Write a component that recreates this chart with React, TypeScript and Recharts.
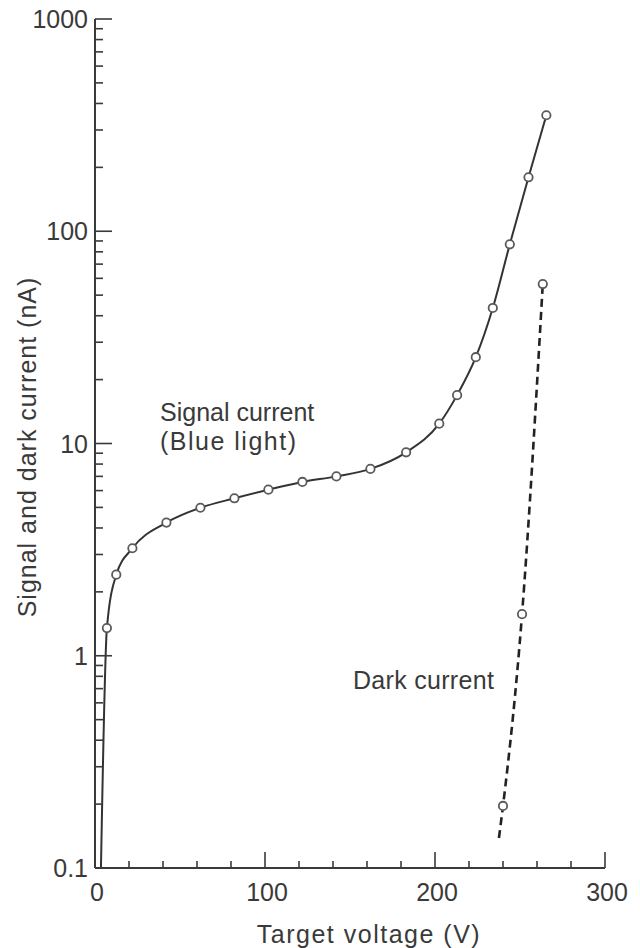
import React from 'react';
import { LineChart, Line, XAxis, YAxis } from 'recharts';

// Signal current (blue light) — target voltage (V) vs current (nA)
const signalVoltage = [3.5, 7, 12.5, 22, 42, 62, 82, 102, 122, 142, 162, 183, 202.5, 213, 224, 234, 244, 255, 265.5];
const signalCurrent = [0.1, 1.35, 2.41, 3.21, 4.24, 4.98, 5.52, 6.06, 6.59, 7.0, 7.59, 9.09, 12.4, 16.9, 25.5, 43.5, 86.8, 179.6, 352];
const signalMarker = [false, true, true, true, true, true, true, true, true, true, true, true, true, true, true, true, true, true, true];

// Dark current
const darkVoltage = [237.6, 240, 251.2, 263.4];
const darkCurrent = [0.1385, 0.196, 1.57, 56.4];
const darkMarker = [false, true, true, true];

// Axes
const xTicks = [0, 20, 40, 60, 80, 100, 120, 140, 160, 180, 200, 220, 240, 260, 280, 300];
const xMajorTicks = [0, 100, 200, 300];
const xTickLabels = ['0', '100', '200', '300'];
const yDecades = [0.1, 1, 10, 100];
const yMultipliers = [1, 2, 3, 4, 5, 6, 7, 8, 9];
const yMajorTicks = [0.1, 1, 10, 100, 1000];
const yTickLabels = ['0.1', '1', '10', '100', '1000'];

const yTicks: number[] = [];
yDecades.forEach((d) => yMultipliers.forEach((m) => yTicks.push(d * m)));
yTicks.push(1000);

const signalData = signalVoltage.map((v, i) => ({ v, i: signalCurrent[i], marker: signalMarker[i] }));
const darkData = darkVoltage.map((v, i) => ({ v, i: darkCurrent[i], marker: darkMarker[i] }));

const FONT = '"Liberation Sans", Arial, sans-serif';
const INK = '#3a3a3a';

const isClose = (a: number, b: number) => Math.abs(a - b) < 1e-9 * Math.max(1, Math.abs(b));

const YTick = (props: any) => {
  const { x, y, payload } = props;
  const v = payload.value;
  const idx = yMajorTicks.findIndex((m) => isClose(m, v));
  const major = idx >= 0;
  const len = major ? 17 : 8;
  return (
    <g>
      {!(idx === 0) && (
        <line x1={x} y1={y} x2={x + len} y2={y} stroke={INK} strokeWidth={1.6} />
      )}
      {major && (
        <text x={x - 7} y={y + 9} textAnchor="end" fontFamily={FONT} fontSize={25} fill={INK}>
          {yTickLabels[idx]}
        </text>
      )}
    </g>
  );
};

const XTick = (props: any) => {
  const { x, y, payload } = props;
  const v = payload.value;
  const idx = xMajorTicks.indexOf(v);
  const major = idx >= 0;
  const len = major ? 16 : 7;
  return (
    <g>
      {v !== 0 && <line x1={x} y1={y} x2={x} y2={y - len} stroke={INK} strokeWidth={1.6} />}
      {major && (
        <text x={x + 2} y={y + 33} textAnchor="middle" fontFamily={FONT} fontSize={25} fill={INK}>
          {xTickLabels[idx]}
        </text>
      )}
    </g>
  );
};

const renderDot = (props: any) => {
  const { cx, cy, payload, index } = props;
  if (!payload || !payload.marker) return <g key={`d-${index}`} />;
  return <circle key={`d-${index}`} cx={cx} cy={cy} r={4.2} fill="#ffffff" stroke="#5a5a5a" strokeWidth={1.8} />;
};

export default function App() {
  return (
    <div style={{ position: 'absolute', left: 0, top: 0, width: 640, height: 948, background: '#ffffff' }}>
      <LineChart width={640} height={948} margin={{ top: 19, right: 35, bottom: 0, left: 0 }}>
        <XAxis
          dataKey="v"
          type="number"
          domain={[0, 300]}
          ticks={xTicks}
          interval={0}
          tickSize={0}
          tickMargin={0}
          height={80}
          allowDataOverflow
          axisLine={{ stroke: INK, strokeWidth: 2 }}
          tickLine={false}
          tick={<XTick />}
        />
        <YAxis
          type="number"
          scale="log"
          domain={[0.1, 1000]}
          ticks={yTicks}
          interval={0}
          tickSize={0}
          tickMargin={0}
          width={95}
          allowDataOverflow
          axisLine={{ stroke: INK, strokeWidth: 2 }}
          tickLine={false}
          tick={<YTick />}
        />
        <Line
          data={signalData}
          dataKey="i"
          type="monotone"
          stroke="#333333"
          strokeWidth={2}
          dot={renderDot}
          activeDot={false}
          isAnimationActive={false}
        />
        <Line
          data={darkData}
          dataKey="i"
          type="monotone"
          stroke="#222222"
          strokeWidth={2.6}
          strokeDasharray="8 5"
          dot={renderDot}
          activeDot={false}
          isAnimationActive={false}
        />
      </LineChart>
      <svg
        width={640}
        height={948}
        style={{ position: 'absolute', left: 0, top: 0, pointerEvents: 'none' }}
      >
        <g fontFamily={FONT} fontSize={25} fill={INK}>
          <text x={160} y={421}>Signal current</text>
          <text x={160} y={450} letterSpacing={1.5}>(Blue light)</text>
          <text x={353} y={689} letterSpacing={0.3}>Dark current</text>
          <text x={369} y={943} textAnchor="middle" letterSpacing={1.5}>Target voltage (V)</text>
          <text x={36} y={447} textAnchor="middle" letterSpacing={1} transform="rotate(-90, 36, 447)">
            Signal and dark current (nA)
          </text>
        </g>
      </svg>
    </div>
  );
}
